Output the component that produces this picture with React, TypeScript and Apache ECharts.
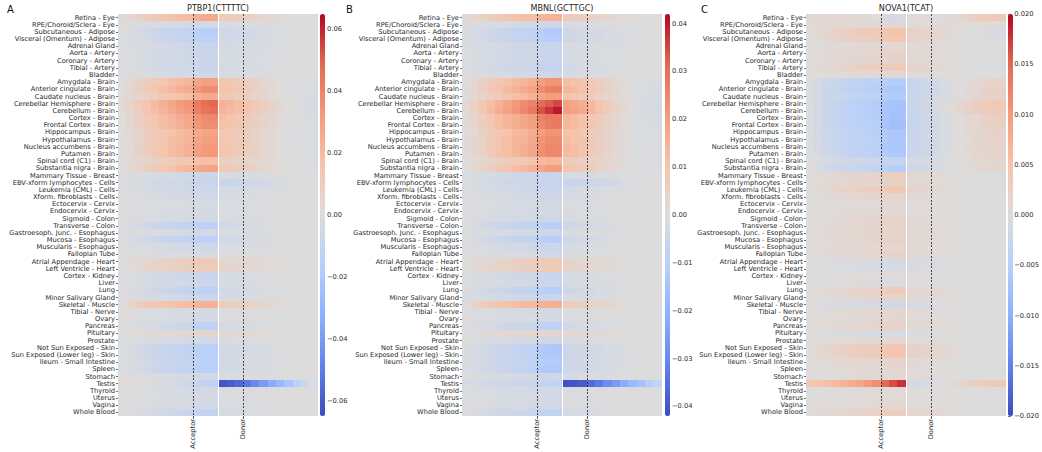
import React, { useEffect, useRef } from "react";
import * as echarts from "echarts";

// ---------------- DATA ----------------
const tissues = [
  "Retina - Eye", "RPE/Choroid/Sclera - Eye", "Subcutaneous - Adipose", "Visceral (Omentum) - Adipose",
  "Adrenal Gland", "Aorta - Artery", "Coronary - Artery", "Tibial - Artery", "Bladder",
  "Amygdala - Brain", "Anterior cingulate - Brain", "Caudate nucleus - Brain", "Cerebellar Hemisphere - Brain",
  "Cerebellum - Brain", "Cortex - Brain", "Frontal Cortex - Brain", "Hippocampus - Brain", "Hypothalamus - Brain",
  "Nucleus accumbens - Brain", "Putamen - Brain", "Spinal cord (C1) - Brain", "Substantia nigra - Brain",
  "Mammary Tissue - Breast", "EBV-xform lymphocytes - Cells", "Leukemia (CML) - Cells", "Xform. fibroblasts - Cells",
  "Ectocervix - Cervix", "Endocervix - Cervix", "Sigmoid - Colon", "Transverse - Colon",
  "Gastroesoph. Junc. - Esophagus", "Mucosa - Esophagus", "Muscularis - Esophagus", "Fallopian Tube",
  "Atrial Appendage - Heart", "Left Ventricle - Heart", "Cortex - Kidney", "Liver", "Lung", "Minor Salivary Gland",
  "Skeletal - Muscle", "Tibial - Nerve", "Ovary", "Pancreas", "Pituitary", "Prostate", "Not Sun Exposed - Skin",
  "Sun Exposed (Lower leg) - Skin", "Ileum - Small Intestine", "Spleen", "Stomach", "Testis", "Thyroid", "Uterus",
  "Vagina", "Whole Blood",
];

// 24 position bins per panel: 0-8 intron before acceptor, 9-11 exon start, 12-14 exon end, 15-23 intron after donor
const positionBins = ["a1", "a2", "a3", "a4", "a5", "a6", "a7", "a8", "a9", "e1", "e2", "e3",
  "e4", "e5", "e6", "d1", "d2", "d3", "d4", "d5", "d6", "d7", "d8", "d9"];
const spliceSitePositions = [9, 15]; // Acceptor, Donor (bin boundaries)
const spliceSiteLabels = ["Acceptor", "Donor"];
const halfBoundary = [12];

// PTBP1(CTTTTC), units of 0.001
const ptbp1Milli = [
  [2,4,7,10,13,15,17,18,19,24,26,27,12,11,10,8,6,4,3,2,1,1,1,1],
  [-1,-1,-2,-2,-3,-3,-3,-4,-4,-5,-5,-5,-2,-2,-2,-2,-1,-1,-1,0,0,0,0,0],
  [-1,-2,-4,-6,-8,-9,-10,-11,-12,-16,-17,-17,-6,-6,-5,-5,-4,-3,-2,-2,-1,-1,0,0],
  [-1,-2,-3,-5,-7,-8,-9,-10,-11,-14,-15,-15,-5,-5,-5,-4,-4,-3,-2,-2,-1,-1,0,0],
  [-1,-1,-2,-3,-4,-5,-6,-6,-7,-9,-9,-9,-4,-4,-3,-3,-3,-2,-2,-1,-1,-1,0,0],
  [-1,-1,-2,-3,-4,-4,-5,-5,-6,-8,-8,-8,-3,-3,-3,-3,-2,-2,-2,-1,-1,-1,0,0],
  [-1,-1,-2,-3,-4,-4,-5,-5,-6,-8,-8,-8,-3,-3,-3,-3,-2,-2,-2,-1,-1,-1,0,0],
  [-1,-1,-2,-3,-4,-5,-5,-6,-6,-8,-9,-9,-4,-4,-3,-3,-3,-2,-2,-1,-1,-1,0,0],
  [-1,-1,-1,-2,-3,-3,-4,-4,-4,-6,-6,-6,-3,-3,-2,-2,-2,-1,-1,-1,-1,0,0,0],
  [0,3,6,9,12,15,18,20,22,28,30,30,15,14,12,10,8,5,3,1,0,-1,-2,-2],
  [1,4,8,12,15,18,21,24,26,33,36,37,17,16,14,11,8,6,3,1,0,-1,-2,-2],
  [0,3,5,8,10,13,15,17,19,24,26,26,13,12,10,8,6,4,2,1,0,-1,-2,-2],
  [2,6,11,16,20,24,28,32,35,43,47,49,24,22,19,16,13,10,6,3,1,-1,-2,-3],
  [2,5,10,15,19,23,27,30,33,41,45,47,22,20,18,15,12,9,6,3,1,-1,-2,-3],
  [1,4,8,12,16,19,22,25,28,35,38,39,18,16,14,12,9,6,4,2,0,-1,-2,-2],
  [1,4,8,12,15,18,21,24,27,34,36,37,17,16,14,11,9,6,3,1,0,-1,-2,-2],
  [0,3,6,9,12,14,17,19,21,26,28,29,14,13,11,9,7,5,3,1,0,-1,-2,-2],
  [0,3,6,10,13,15,18,20,22,28,30,31,15,14,12,10,7,5,3,1,0,-1,-2,-2],
  [1,3,7,10,13,16,19,21,24,30,32,33,16,15,13,10,8,5,3,1,0,-1,-2,-2],
  [1,3,7,10,13,16,19,21,24,30,32,33,16,14,12,10,8,5,3,1,0,-1,-2,-2],
  [0,2,4,6,8,10,11,13,14,17,18,18,9,8,7,6,5,3,2,1,0,-1,-1,-1],
  [0,3,6,9,12,14,17,19,21,26,28,29,14,13,11,9,7,5,3,1,0,-1,-2,-2],
  [-1,-1,-2,-3,-3,-4,-4,-5,-5,-7,-8,-8,-3,-3,-3,-2,-2,-2,-1,-1,-1,0,0,0],
  [-1,-2,-3,-4,-5,-5,-6,-6,-7,-9,-9,-9,-9,-9,-8,-7,-6,-5,-4,-3,-2,-1,-1,0],
  [-1,-1,-2,-3,-4,-4,-5,-5,-6,-7,-7,-7,-4,-4,-4,-3,-3,-2,-2,-1,-1,0,0,0],
  [-1,-1,-2,-2,-3,-3,-4,-4,-4,-5,-5,-5,-3,-3,-2,-2,-2,-1,-1,-1,0,0,0,0],
  [0,-1,-1,-1,-2,-2,-2,-2,-3,-3,-3,-3,-2,-2,-1,-1,-1,-1,0,0,0,0,0,0],
  [0,-1,-1,-2,-2,-2,-3,-3,-3,-4,-4,-4,-2,-2,-2,-1,-1,-1,-1,0,0,0,0,0],
  [0,-1,-1,-2,-2,-3,-3,-3,-4,-5,-5,-5,-2,-2,-2,-2,-1,-1,-1,0,0,0,0,0],
  [-1,-2,-4,-6,-8,-9,-10,-11,-12,-14,-15,-15,-5,-5,-4,-4,-3,-2,-2,-1,-1,0,0,0],
  [0,-1,-1,-2,-2,-3,-3,-4,-4,-5,-5,-5,-2,-2,-2,-2,-1,-1,-1,0,0,0,0,0],
  [-1,-2,-4,-6,-8,-9,-10,-11,-12,-14,-15,-15,-5,-5,-5,-4,-3,-3,-2,-1,-1,0,0,0],
  [0,-1,-2,-2,-3,-3,-4,-4,-5,-6,-6,-6,-2,-2,-2,-2,-1,-1,-1,0,0,0,0,0],
  [0,-1,-1,-1,-2,-2,-2,-2,-3,-3,-3,-3,-1,-1,-1,-1,-1,0,0,0,0,0,0,0],
  [0,2,3,5,6,7,8,9,10,12,12,12,5,5,4,4,3,2,1,1,0,0,0,0],
  [0,1,3,4,5,6,7,8,9,11,11,11,5,4,4,3,3,2,1,1,0,0,0,0],
  [-1,-1,-2,-3,-4,-5,-5,-6,-6,-8,-8,-8,-3,-3,-3,-2,-2,-2,-1,-1,0,0,0,0],
  [-1,-1,-2,-3,-4,-4,-5,-5,-6,-7,-8,-8,-3,-3,-3,-2,-2,-1,-1,-1,0,0,0,0],
  [-1,-2,-3,-5,-7,-8,-9,-10,-11,-14,-15,-15,-5,-5,-4,-4,-3,-2,-2,-1,-1,0,0,0],
  [-1,-1,-2,-3,-4,-4,-5,-5,-6,-7,-8,-8,-3,-3,-3,-2,-2,-1,-1,-1,0,0,0,0],
  [1,5,10,13,15,16,17,18,19,23,24,24,11,10,9,8,6,5,3,2,1,1,0,0],
  [0,-1,-1,-2,-2,-2,-3,-3,-3,-4,-4,-4,-2,-2,-1,-1,-1,-1,0,0,0,0,0,0],
  [0,-1,-1,-2,-2,-2,-3,-3,-3,-4,-4,-4,-2,-1,-1,-1,-1,0,0,0,0,0,0,0],
  [-1,-1,-2,-3,-4,-5,-6,-7,-8,-13,-14,-14,-4,-4,-3,-3,-2,-2,-1,-1,0,0,0,0],
  [0,1,1,2,2,2,3,3,3,4,4,4,3,3,2,2,2,1,1,1,0,0,0,0],
  [0,-1,-2,-2,-3,-3,-4,-4,-5,-6,-6,-6,-2,-2,-2,-2,-1,-1,-1,0,0,0,0,0],
  [-1,-2,-4,-6,-8,-9,-10,-11,-12,-15,-16,-16,-5,-5,-4,-4,-3,-3,-2,-1,-1,0,0,0],
  [-1,-2,-4,-6,-8,-9,-10,-11,-12,-15,-16,-16,-5,-5,-4,-4,-3,-3,-2,-1,-1,0,0,0],
  [-1,-2,-3,-5,-7,-8,-9,-10,-11,-14,-15,-15,-5,-4,-4,-3,-3,-2,-2,-1,-1,0,0,0],
  [-1,-2,-4,-6,-8,-9,-10,-11,-12,-15,-16,-16,-5,-5,-4,-4,-3,-3,-2,-1,-1,0,0,0],
  [0,-1,-1,-2,-2,-3,-3,-4,-4,-5,-5,-5,-2,-2,-2,-1,-1,-1,-1,0,0,0,0,0],
  [3,2,1,0,-1,-2,-4,-5,-7,-10,-12,-14,-62,-60,-57,-52,-46,-40,-34,-28,-22,-15,-8,-2],
  [0,-1,-1,-2,-2,-3,-3,-3,-4,-5,-5,-5,-2,-2,-2,-1,-1,-1,0,0,0,0,0,0],
  [0,-1,-1,-1,-2,-2,-2,-3,-3,-4,-4,-4,-2,-1,-1,-1,-1,0,0,0,0,0,0,0],
  [0,-1,-1,-2,-2,-3,-3,-3,-4,-5,-5,-5,-2,-2,-2,-1,-1,-1,0,0,0,0,0,0],
  [-1,-1,-2,-4,-5,-6,-7,-8,-9,-11,-12,-12,-3,-3,-3,-2,-2,-2,-1,-1,0,0,0,0],
];

// MBNL(GCTTGC), units of 0.001
const mbnlMilli = [
  [1,3,5,7,9,10,11,12,12,14,15,15,8,7,6,5,4,3,2,1,1,0,0,0],
  [-1,-1,-1,-2,-2,-2,-3,-3,-3,-4,-4,-4,-2,-2,-1,-1,-1,-1,0,0,0,0,0,0],
  [-1,-2,-3,-4,-5,-6,-7,-8,-8,-11,-12,-12,-4,-4,-3,-3,-3,-2,-2,-1,-1,0,0,0],
  [-1,-2,-3,-4,-5,-6,-7,-7,-8,-10,-11,-11,-4,-4,-3,-3,-3,-2,-2,-1,-1,0,0,0],
  [-1,-1,-2,-2,-3,-3,-4,-4,-4,-6,-6,-6,-2,-2,-2,-2,-1,-1,-1,-1,0,0,0,0],
  [-1,-1,-2,-2,-3,-3,-4,-4,-4,-5,-6,-6,-2,-2,-2,-2,-1,-1,-1,-1,0,0,0,0],
  [-1,-1,-2,-2,-3,-3,-4,-4,-4,-5,-6,-6,-2,-2,-2,-2,-1,-1,-1,-1,0,0,0,0],
  [-1,-1,-2,-3,-3,-4,-4,-5,-5,-7,-7,-7,-3,-3,-2,-2,-2,-1,-1,-1,0,0,0,0],
  [-1,-1,-1,-2,-2,-2,-3,-3,-3,-4,-4,-4,-2,-2,-1,-1,-1,-1,0,0,0,0,0,0],
  [0,2,5,7,9,11,13,14,16,20,22,22,12,11,10,8,6,4,2,1,0,-1,-1,-1],
  [1,3,6,9,11,13,15,17,19,24,26,27,14,13,11,9,7,5,3,1,0,-1,-1,-2],
  [0,2,4,6,8,10,12,13,15,18,20,20,10,9,8,7,5,3,2,1,0,-1,-1,-1],
  [2,5,9,12,15,18,21,24,26,31,33,35,19,18,16,13,10,7,4,2,0,-1,-2,-2],
  [2,5,9,13,16,19,22,25,28,34,37,40,20,19,17,14,11,7,4,2,0,-1,-2,-3],
  [1,3,6,9,12,14,16,18,20,26,28,28,14,13,11,9,7,5,3,1,0,-1,-1,-2],
  [1,3,6,9,12,14,16,18,20,25,27,28,14,13,11,9,7,5,3,1,0,-1,-1,-2],
  [0,2,5,7,9,11,13,14,16,20,22,22,11,10,9,7,6,4,2,1,0,-1,-1,-1],
  [1,3,5,8,10,12,14,15,17,22,24,24,12,11,10,8,6,4,2,1,0,-1,-1,-1],
  [1,3,5,8,10,12,14,16,18,23,25,25,13,12,10,8,6,4,2,1,0,-1,-1,-1],
  [1,3,5,8,10,12,14,16,18,23,25,25,13,12,10,8,6,4,2,1,0,-1,-1,-1],
  [0,1,3,4,6,7,8,9,10,13,14,14,7,7,6,5,4,3,2,1,0,0,-1,-1],
  [0,2,4,6,8,10,12,13,15,18,20,20,10,9,8,7,5,3,2,1,0,-1,-1,-1],
  [-1,-1,-2,-2,-3,-3,-4,-4,-4,-6,-6,-6,-2,-2,-2,-2,-1,-1,-1,0,0,0,0,0],
  [-1,-1,-2,-3,-3,-4,-4,-5,-5,-6,-6,-6,-6,-6,-6,-5,-4,-4,-3,-2,-1,-1,0,0],
  [-1,-1,-2,-2,-3,-3,-3,-4,-4,-5,-5,-5,-3,-3,-2,-2,-2,-1,-1,-1,0,0,0,0],
  [-1,-1,-1,-2,-2,-2,-3,-3,-3,-4,-4,-4,-2,-2,-2,-1,-1,-1,-1,0,0,0,0,0],
  [0,-1,-1,-1,-1,-2,-2,-2,-2,-3,-3,-3,-1,-1,-1,-1,-1,0,0,0,0,0,0,0],
  [0,-1,-1,-1,-2,-2,-2,-2,-3,-3,-3,-3,-1,-1,-1,-1,-1,0,0,0,0,0,0,0],
  [0,-1,-1,-2,-2,-2,-3,-3,-3,-4,-4,-4,-2,-2,-1,-1,-1,-1,0,0,0,0,0,0],
  [-1,-2,-3,-4,-5,-6,-7,-8,-8,-10,-11,-11,-4,-4,-3,-3,-2,-2,-1,-1,0,0,0,0],
  [0,-1,-1,-2,-2,-2,-3,-3,-3,-4,-4,-4,-2,-2,-1,-1,-1,-1,0,0,0,0,0,0],
  [-1,-2,-3,-4,-5,-6,-7,-7,-8,-10,-11,-11,-4,-4,-3,-3,-2,-2,-1,-1,0,0,0,0],
  [0,-1,-1,-2,-2,-3,-3,-3,-4,-5,-5,-5,-2,-2,-1,-1,-1,-1,0,0,0,0,0,0],
  [0,-1,-1,-1,-1,-2,-2,-2,-2,-3,-3,-3,-1,-1,-1,-1,-1,0,0,0,0,0,0,0],
  [0,1,2,3,4,5,6,6,7,8,8,8,4,4,3,3,2,2,1,1,0,0,0,0],
  [0,1,2,3,4,4,5,6,6,7,8,8,4,3,3,2,2,1,1,0,0,0,0,0],
  [-1,-1,-2,-2,-3,-3,-4,-4,-4,-5,-6,-6,-2,-2,-2,-2,-1,-1,-1,0,0,0,0,0],
  [-1,-1,-1,-2,-2,-3,-3,-3,-4,-5,-5,-5,-2,-2,-2,-1,-1,-1,-1,0,0,0,0,0],
  [-1,-2,-3,-4,-5,-6,-7,-7,-8,-10,-11,-11,-4,-4,-3,-3,-2,-2,-1,-1,0,0,0,0],
  [-1,-1,-2,-2,-3,-3,-4,-4,-4,-6,-6,-6,-2,-2,-2,-2,-1,-1,-1,0,0,0,0,0],
  [1,4,7,9,10,11,12,13,13,15,16,16,8,7,6,5,4,3,2,1,1,0,0,0],
  [0,-1,-1,-1,-2,-2,-2,-2,-3,-3,-3,-3,-1,-1,-1,-1,-1,0,0,0,0,0,0,0],
  [0,-1,-1,-1,-1,-2,-2,-2,-2,-3,-3,-3,-1,-1,-1,-1,0,0,0,0,0,0,0,0],
  [-1,-1,-2,-2,-3,-4,-4,-5,-5,-8,-9,-9,-3,-3,-2,-2,-2,-1,-1,-1,0,0,0,0],
  [0,0,1,1,1,2,2,2,2,3,3,3,2,2,2,1,1,1,1,0,0,0,0,0],
  [0,-1,-1,-2,-2,-2,-3,-3,-3,-4,-4,-4,-2,-2,-1,-1,-1,-1,0,0,0,0,0,0],
  [-1,-2,-3,-4,-5,-6,-7,-8,-9,-12,-13,-13,-5,-4,-4,-3,-3,-2,-2,-1,-1,0,0,0],
  [-1,-2,-3,-4,-5,-6,-7,-8,-9,-12,-13,-13,-5,-4,-4,-3,-3,-2,-2,-1,-1,0,0,0],
  [-1,-2,-3,-4,-5,-6,-7,-7,-8,-11,-12,-12,-4,-4,-3,-3,-2,-2,-1,-1,0,0,0,0],
  [-1,-2,-3,-4,-5,-6,-7,-8,-9,-12,-13,-13,-5,-4,-4,-3,-3,-2,-2,-1,-1,0,0,0],
  [0,-1,-1,-2,-2,-2,-3,-3,-3,-4,-4,-4,-2,-2,-1,-1,-1,-1,0,0,0,0,0,0],
  [-2,-2,-3,-3,-4,-4,-5,-5,-6,-7,-8,-8,-41,-40,-39,-36,-33,-29,-26,-22,-18,-15,-11,-8],
  [0,-1,-1,-1,-2,-2,-2,-2,-3,-3,-3,-3,-1,-1,-1,-1,-1,0,0,0,0,0,0,0],
  [0,-1,-1,-1,-1,-2,-2,-2,-2,-3,-3,-3,-1,-1,-1,-1,0,0,0,0,0,0,0,0],
  [0,-1,-1,-1,-2,-2,-2,-2,-3,-3,-3,-3,-1,-1,-1,-1,-1,0,0,0,0,0,0,0],
  [-1,-1,-2,-3,-4,-4,-5,-5,-6,-8,-8,-8,-2,-2,-2,-2,-1,-1,-1,0,0,0,0,0],
];

// NOVA1(TCAT), units of 0.0001
const nova1TenthMilli = [
  [10,12,12,12,12,10,8,5,0,-10,-15,-12,5,5,5,5,5,8,12,20,30,38,40,40],
  [5,6,8,8,8,8,8,8,8,8,8,8,6,6,6,5,5,5,5,5,5,6,6,6],
  [3,8,15,20,25,30,33,36,38,48,52,52,25,22,18,14,10,6,3,0,-3,-5,-8,-8],
  [2,6,12,16,20,24,27,30,32,40,44,44,20,18,15,11,8,5,2,0,-2,-4,-6,-6],
  [2,3,4,5,6,7,8,8,8,10,10,10,5,5,4,4,3,2,1,0,0,-1,-1,-1],
  [2,4,6,8,10,12,13,14,15,18,20,20,10,9,8,6,5,3,2,0,-1,-2,-3,-3],
  [2,4,6,8,10,12,13,14,15,18,20,20,10,9,8,6,5,3,2,0,-1,-2,-3,-3],
  [2,6,10,14,18,22,25,27,29,35,38,38,18,16,13,10,7,4,2,0,-2,-3,-5,-5],
  [1,2,3,4,5,6,7,7,8,9,10,10,5,5,4,3,3,2,1,0,0,0,0,0],
  [-5,-12,-20,-26,-30,-34,-37,-40,-42,-52,-55,-55,-28,-24,-20,-15,-10,-5,0,5,10,15,18,18],
  [-5,-14,-23,-30,-35,-40,-44,-47,-50,-60,-64,-64,-32,-28,-22,-16,-10,-4,2,8,14,20,24,24],
  [-4,-12,-20,-26,-30,-34,-38,-40,-43,-54,-57,-57,-28,-24,-19,-14,-9,-4,1,6,12,16,20,20],
  [-5,-15,-25,-32,-38,-43,-47,-50,-53,-65,-70,-70,-30,-25,-18,-10,-3,5,12,20,28,35,40,40],
  [-5,-15,-25,-32,-38,-43,-47,-50,-53,-66,-72,-72,-30,-25,-18,-10,-3,5,12,20,28,35,38,38],
  [-5,-15,-24,-31,-36,-41,-45,-48,-52,-66,-72,-72,-32,-27,-21,-15,-9,-3,3,9,15,20,24,24],
  [-5,-15,-24,-31,-36,-41,-45,-48,-52,-68,-75,-75,-33,-28,-22,-15,-9,-3,3,9,15,20,24,24],
  [-4,-13,-21,-28,-33,-38,-42,-45,-48,-60,-65,-65,-30,-25,-20,-14,-8,-3,2,8,13,18,20,20],
  [-4,-12,-20,-27,-32,-36,-40,-43,-46,-58,-62,-62,-28,-24,-19,-14,-8,-3,2,7,12,16,18,18],
  [-4,-13,-21,-28,-33,-38,-42,-45,-48,-62,-66,-66,-30,-25,-20,-14,-8,-3,2,8,13,18,20,20],
  [-4,-12,-20,-27,-32,-36,-40,-43,-46,-58,-62,-62,-28,-24,-19,-14,-8,-3,2,7,12,16,18,18],
  [-2,-6,-10,-14,-17,-20,-22,-24,-26,-32,-35,-35,-15,-13,-10,-7,-4,-1,2,5,8,10,12,12],
  [-3,-9,-15,-20,-24,-27,-30,-32,-35,-48,-52,-52,-22,-19,-15,-11,-7,-3,1,5,9,12,14,14],
  [2,4,7,10,12,14,16,17,18,24,26,26,12,11,9,7,5,3,1,0,-1,-2,-3,-3],
  [2,4,6,8,10,12,13,14,15,20,22,22,10,9,8,6,4,3,1,0,-1,-2,-3,-3],
  [3,7,12,16,20,23,26,28,30,38,42,42,18,16,13,10,7,4,2,0,-1,-2,-3,-3],
  [1,3,5,7,8,10,11,12,12,15,16,16,8,7,6,5,4,3,1,0,0,-1,-1,-1],
  [1,2,3,4,5,6,6,7,7,9,9,9,5,4,4,3,2,2,1,0,0,0,0,0],
  [1,2,3,4,5,6,6,7,7,9,9,9,5,4,4,3,2,2,1,0,0,0,0,0],
  [1,3,5,7,9,10,11,12,13,16,17,17,8,7,6,5,4,3,1,0,0,-1,-1,-1],
  [2,4,7,9,11,13,14,15,16,20,22,22,10,9,8,6,4,3,1,0,-1,-1,-2,-2],
  [1,3,5,7,9,10,11,12,13,16,17,17,8,7,6,5,4,3,1,0,0,-1,-1,-1],
  [2,4,7,9,11,13,14,15,16,20,22,22,10,9,8,6,4,3,1,0,-1,-1,-2,-2],
  [1,3,5,6,8,9,10,11,11,14,15,15,7,6,5,4,3,2,1,0,0,-1,-1,-1],
  [2,4,6,8,10,12,13,14,15,19,20,20,10,9,7,6,4,3,1,0,0,-1,-1,-1],
  [-1,-2,-3,-4,-5,-6,-7,-8,-8,-10,-11,-11,-8,-7,-6,-5,-4,-3,-2,-1,0,0,0,0],
  [-1,-2,-3,-4,-5,-6,-7,-7,-8,-10,-10,-10,-7,-6,-5,-4,-4,-3,-2,-1,0,0,0,0],
  [0,1,1,2,2,3,3,3,3,4,4,4,2,2,2,1,1,1,0,0,0,0,0,0],
  [0,-1,-1,-2,-2,-2,-3,-3,-3,-4,-4,-4,-2,-2,-2,-1,-1,-1,0,0,0,0,0,0],
  [2,5,9,12,15,18,20,22,23,30,33,33,15,13,11,8,6,4,2,0,-1,-2,-2,-2],
  [1,3,5,7,9,11,12,13,14,17,18,18,9,8,7,5,4,3,1,0,0,-1,-1,-1],
  [-1,-3,-5,-7,-8,-9,-10,-11,-12,-15,-16,-16,-12,-10,-8,-6,-4,-2,-1,0,0,0,0,0],
  [1,2,4,6,7,8,9,10,10,13,14,14,7,6,5,4,3,2,1,0,0,0,0,0],
  [1,2,3,5,6,7,8,9,9,11,12,12,6,5,4,3,3,2,1,0,0,0,0,0],
  [2,4,7,9,11,13,14,15,16,20,22,22,10,9,8,6,4,3,1,0,-1,-1,-2,-2],
  [-1,-2,-3,-4,-5,-5,-6,-6,-7,-8,-9,-9,-5,-4,-4,-3,-2,-2,-1,0,0,0,0,0],
  [1,2,4,5,6,7,8,9,9,11,12,12,6,5,4,4,3,2,1,0,0,0,0,0],
  [3,8,14,19,23,27,30,32,34,42,45,45,22,20,17,14,10,7,4,2,0,-1,-2,-2],
  [3,8,14,19,23,27,30,32,34,42,45,45,22,20,17,14,10,7,4,2,0,-1,-2,-2],
  [1,3,5,7,8,10,11,12,12,15,16,16,8,7,6,5,4,3,1,0,0,-1,-1,-1],
  [1,2,4,5,6,7,8,9,9,11,12,12,6,5,4,3,2,1,0,0,-1,-2,-3,-3],
  [1,2,3,4,5,6,7,8,8,10,11,11,5,5,4,3,2,2,1,0,0,0,0,0],
  [45,50,55,62,70,78,88,100,112,150,165,178,-15,-14,-10,-5,0,5,12,20,28,35,38,38],
  [0,1,2,3,3,4,4,5,5,6,6,6,3,3,2,2,2,1,1,0,0,0,0,0],
  [0,1,2,3,3,4,4,5,5,6,6,6,3,3,2,2,2,1,1,0,0,0,0,0],
  [1,2,3,4,5,6,7,7,8,10,10,10,5,5,4,3,3,2,1,0,0,0,0,0],
  [2,5,8,11,14,17,19,21,22,28,30,30,14,12,10,8,6,4,2,0,-1,-2,-3,-3],
];

const panelTitles = ["PTBP1(CTTTTC)", "MBNL(GCTTGC)", "NOVA1(TCAT)"];
const panelLetters = ["A", "B", "C"];
const colorbarLimits = [0.065, 0.042, 0.02];
const ptbp1Ticks = [-0.06, -0.04, -0.02, 0, 0.02, 0.04, 0.06];
const mbnlTicks = [-0.04, -0.03, -0.02, -0.01, 0, 0.01, 0.02, 0.03, 0.04];
const nova1Ticks = [-0.02, -0.015, -0.01, -0.005, 0, 0.005, 0.01, 0.015, 0.02];

const coolwarm = ["#3b4cc0", "#6282ea", "#8db0fe", "#b8d0f9", "#dddcdc", "#f5c4ac", "#f49a7b", "#e36a53", "#b40426"];

// ---------------- LAYOUT ----------------
const FONT = "DejaVu Sans";
const TEXT = "#262626";
const GRID_TOP = 14;
const GRID_H = 402;
const GRID_W = 200;

const panels = [
  { rows: ptbp1Milli, unit: 0.001, ticks: ptbp1Ticks, decimals: 2, left: 118, cbLeft: 320, letterX: 7 },
  { rows: mbnlMilli, unit: 0.001, ticks: mbnlTicks, decimals: 2, left: 462, cbLeft: 665, letterX: 346 },
  { rows: nova1TenthMilli, unit: 0.0001, ticks: nova1Ticks, decimals: 3, left: 806, cbLeft: 1008, letterX: 701 },
];

function fmtTick(v: number, d: number) {
  const s = Math.abs(v).toFixed(d);
  return v < 0 ? "\u2212" + s : s;
}

function buildOption() {
  const grid: any[] = [];
  const xAxis: any[] = [];
  const yAxis: any[] = [];
  const series: any[] = [];
  const visualMap: any[] = [];
  const graphic: any[] = [];

  panels.forEach((p, i) => {
    const vmax = colorbarLimits[i];
    // heatmap grid
    const gHeat = grid.length;
    grid.push({ left: p.left, top: GRID_TOP, width: GRID_W, height: GRID_H, containLabel: false });
    const xCat = xAxis.length;
    xAxis.push({
      type: "category", gridIndex: gHeat, data: positionBins, show: false,
    });
    const xVal = xAxis.length;
    xAxis.push({
      type: "value", gridIndex: gHeat, min: 0, max: positionBins.length, position: "bottom",
      axisLine: { show: false }, splitLine: { show: false },
      axisTick: { show: true, length: 3, customValues: spliceSitePositions, lineStyle: { color: "#333", width: 0.8 } },
      axisLabel: {
        show: true, customValues: spliceSitePositions, rotate: 90, margin: 3,
        fontSize: 6.7, fontFamily: FONT, color: TEXT,
        formatter: (v: number) => spliceSiteLabels[spliceSitePositions.indexOf(v)] ?? "",
      },
    });
    const yCat = yAxis.length;
    yAxis.push({
      type: "category", gridIndex: gHeat, data: tissues, inverse: true,
      axisLine: { show: false },
      axisTick: { show: true, length: 2, alignWithLabel: true, lineStyle: { color: "#333", width: 0.7 } },
      axisLabel: { interval: 0, fontSize: 6.7, fontFamily: FONT, color: TEXT, margin: 3 },
      splitLine: { show: false },
    });
    const heatIdx = series.length;
    const data: any[] = [];
    p.rows.forEach((row, r) => row.forEach((v, c) => data.push([c, r, v * p.unit])));
    series.push({
      type: "heatmap", xAxisIndex: xCat, yAxisIndex: yCat, data, progressive: 0, z: 2,
      itemStyle: { borderWidth: 0 }, emphasis: { disabled: true },
    });
    series.push({
      type: "line", xAxisIndex: xVal, yAxisIndex: yCat, data: [[0, 0]], showSymbol: false, silent: true, z: 6,
      lineStyle: { opacity: 0 },
      markLine: {
        silent: true, symbol: ["none", "none"], label: { show: false }, animation: false,
        data: [
          ...spliceSitePositions.map((x) => ({ xAxis: x, lineStyle: { color: "#222", width: 0.8, type: [2, 1.5] } })),
          ...halfBoundary.map((x) => ({ xAxis: x, lineStyle: { color: "#ffffff", width: 1.2, type: "solid" } })),
        ],
      },
    });
    visualMap.push({
      type: "continuous", seriesIndex: heatIdx, min: -vmax, max: vmax, calculable: false, hoverLink: false,
      inRange: { color: coolwarm }, itemWidth: 5, itemHeight: GRID_H, left: p.cbLeft, top: GRID_TOP,
      padding: 0, orient: "vertical", show: true,
    });
    // colorbar axis
    const gCb = grid.length;
    grid.push({ left: p.cbLeft, top: GRID_TOP, width: 5, height: GRID_H });
    xAxis.push({ type: "value", gridIndex: gCb, show: false, min: 0, max: 1 });
    yAxis.push({
      type: "value", gridIndex: gCb, position: "right", min: -vmax, max: vmax,
      axisLine: { show: false }, splitLine: { show: false },
      axisTick: { show: true, length: 2.5, customValues: p.ticks, lineStyle: { color: "#333", width: 0.7 } },
      axisLabel: {
        show: true, customValues: p.ticks, margin: 2, fontSize: 6.7, fontFamily: FONT, color: TEXT,
        formatter: (v: number) => fmtTick(v, p.decimals),
      },
    });
    graphic.push({
      type: "text", x: p.left + GRID_W / 2, y: 8,
      style: { text: panelTitles[i], fontSize: 8.1, fontFamily: FONT, fill: TEXT, align: "center", verticalAlign: "middle", textAlign: "center", textVerticalAlign: "middle" },
    });
    graphic.push({
      type: "text", x: p.letterX, y: 9,
      style: { text: panelLetters[i], fontSize: 10, fontFamily: FONT, fill: "#111", align: "left", verticalAlign: "middle", textAlign: "left", textVerticalAlign: "middle" },
    });
  });

  return {
    animation: false,
    backgroundColor: "#ffffff",
    textStyle: { fontFamily: FONT },
    grid, xAxis, yAxis, series, visualMap, graphic,
  };
}

export default function App() {
  const ref = useRef<HTMLDivElement>(null);
  useEffect(() => {
    if (!ref.current) return;
    const chart = echarts.init(ref.current, undefined, { renderer: "svg" });
    chart.setOption(buildOption() as any);
    return () => chart.dispose();
  }, []);
  return (
    <>
      <style>{"#heatmaps path { shape-rendering: crispEdges; }"}</style>
      <div
        id="heatmaps"
        ref={ref}
        style={{ position: "fixed", left: 0, top: 0, width: 1042, height: 452, background: "#fff" }}
      />
    </>
  );
}
